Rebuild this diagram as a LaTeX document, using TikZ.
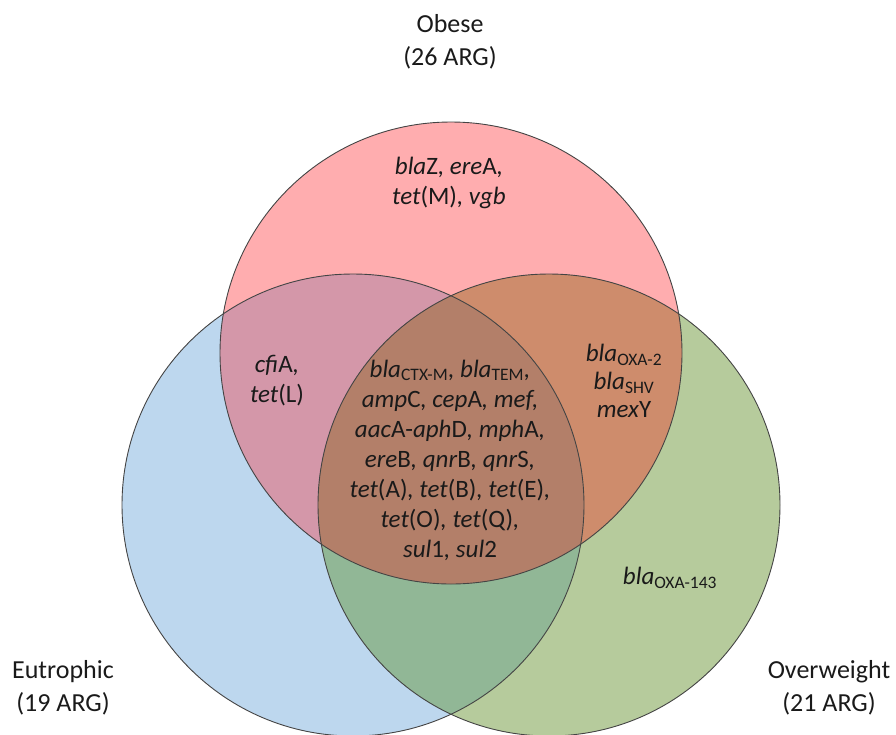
\documentclass[tikz,border=0pt]{standalone}
\usepackage{fontspec}
\setmainfont{Carlito}
\definecolor{redc}{HTML}{FFADAF}
\definecolor{bluec}{HTML}{BDD7EE}
\definecolor{greenc}{HTML}{B6CB9C}
\definecolor{rbc}{HTML}{D497A9}
\definecolor{rgc}{HTML}{CE8C6C}
\definecolor{bgc}{HTML}{91B796}
\definecolor{rbgc}{HTML}{B37F69}
\definecolor{linec}{HTML}{444444}
\definecolor{textc}{HTML}{1A1A1A}
\tikzset{
  setlabel/.style={align=center, text=textc, font=\fontsize{26}{33}\selectfont, inner sep=0pt},
  genes/.style={align=center, text=textc, font=\fontsize{25}{30}\selectfont\itshape, inner sep=0pt},
  outline/.style={draw=linec, line width=0.9pt}
}
\newcommand{\gn}[2]{\textit{#1}\textup{#2}}
\newcommand{\sbs}[1]{\textsubscript{\upshape #1}}
\begin{document}
\begin{tikzpicture}[x=1pt,y=-1pt]
\useasboundingbox (0,0) rectangle (896,734);
\clip (0,0) rectangle (896,734);
\def\R{231pt}
\coordinate (cr) at (451,353);
\coordinate (cb) at (353,505);
\coordinate (cg) at (549,505);
\fill[redc] (cr) circle[radius=\R];
\fill[bluec] (cb) circle[radius=\R];
\fill[greenc] (cg) circle[radius=\R];
\begin{scope}\clip (cr) circle[radius=\R]; \fill[rbc] (cb) circle[radius=\R];\end{scope}
\begin{scope}\clip (cr) circle[radius=\R]; \fill[rgc] (cg) circle[radius=\R];\end{scope}
\begin{scope}\clip (cb) circle[radius=\R]; \fill[bgc] (cg) circle[radius=\R];\end{scope}
\begin{scope}\clip (cr) circle[radius=\R]; \clip (cb) circle[radius=\R]; \fill[rbgc] (cg) circle[radius=\R];\end{scope}
\draw[outline] (cr) circle[radius=\R];
\draw[outline] (cb) circle[radius=\R];
\draw[outline] (cg) circle[radius=\R];

\node[setlabel] (obese) at (450,42) {Obese\\(26 ARG)};
\node[setlabel] (eutro) at (63,688) {Eutrophic\\(19 ARG)};
\node[setlabel] (over) at (829,688) {Overweight\\(21 ARG)};

\node[genes] (onlyobese) at (449,183) {\gn{bla}{Z}, \gn{ere}{A},\\\gn{tet}{(M)}, \gn{vgb}{}};
\node[genes] (obeu) at (277,381) {\gn{cfi}{A},\\\gn{tet}{(L)}};
\node[genes] (all) at (450,460) {\gn{bla}{}\sbs{CTX-M}, \gn{bla}{}\sbs{TEM},\\
\gn{amp}{C}, \gn{cep}{A}, \gn{mef}{},\\
\gn{aac}{A-}\gn{aph}{D}, \gn{mph}{A},\\
\gn{ere}{B}, \gn{qnr}{B}, \gn{qnr}{S},\\
\gn{tet}{(A)}, \gn{tet}{(B)}, \gn{tet}{(E)},\\
\gn{tet}{(O)}, \gn{tet}{(Q)},\\
\gn{sul}{1}, \gn{sul}{2}};
\node[genes, font=\fontsize{25}{28}\selectfont\itshape] (obov) at (624,381) {\gn{bla}{}\sbs{OXA-2}\\\gn{bla}{}\sbs{SHV}\\\gn{mex}{Y}};
\node[genes] (onlyov) at (670,578) {\gn{bla}{}\sbs{OXA-143}};
\end{tikzpicture}
\end{document}
